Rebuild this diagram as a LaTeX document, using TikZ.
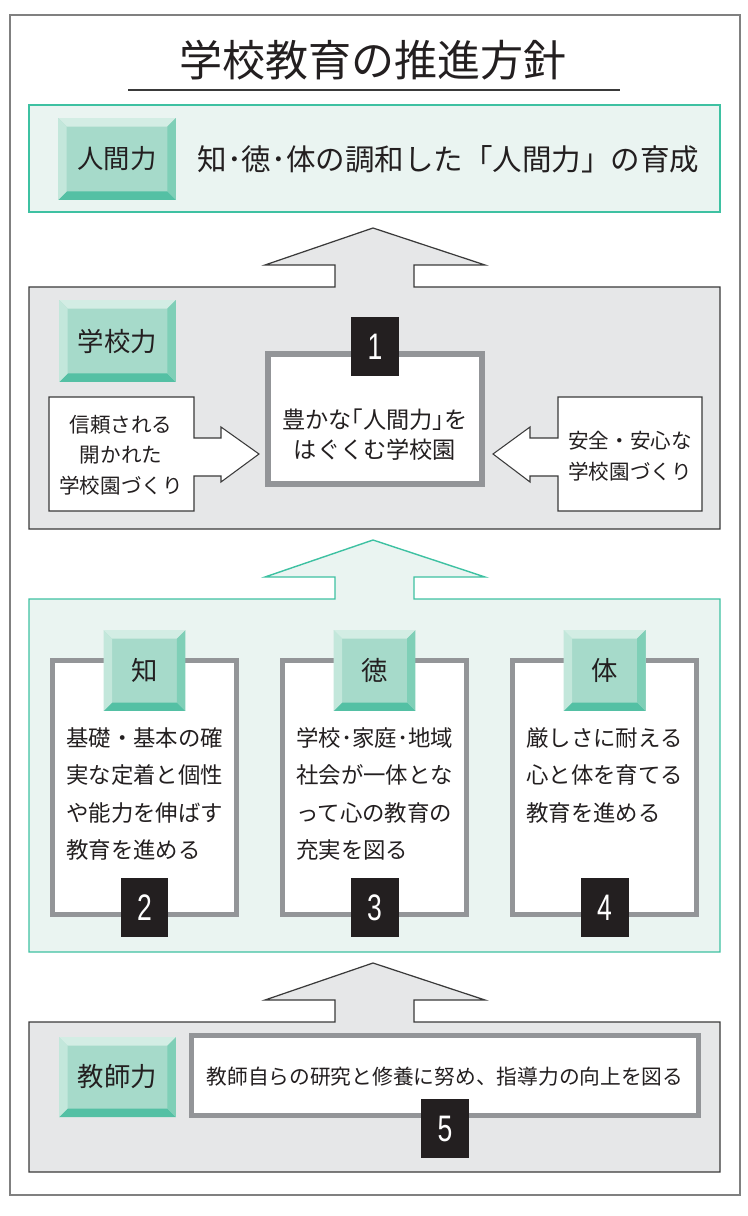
\documentclass[tikz,border=0pt]{standalone}
\usepackage{fontspec}
\setmainfont{Noto Sans CJK JP}
\newfontfamily\numfont[FakeStretch=0.72]{Liberation Sans}
\usetikzlibrary{positioning}

\definecolor{mintbg}{HTML}{EAF4F1}
\definecolor{mintline}{HTML}{3EC1A2}
\definecolor{graybg}{HTML}{E6E7E8}
\definecolor{grayline}{HTML}{939598}
\definecolor{darkline}{HTML}{3A3A3A}
\definecolor{ink}{HTML}{231F20}
\definecolor{bevface}{HTML}{A6DACA}
\definecolor{bevtop}{HTML}{D3EDE4}
\definecolor{bevleft}{HTML}{C3E7DB}
\definecolor{bevright}{HTML}{7FCFB7}
\definecolor{bevbot}{HTML}{54C0A4}

\newcommand{\bevw}{0.17cm}
% box with the broad up arrow on its top edge
\newcommand{\uparrowbox}[3]{%
  \draw[#1] (29,#2) -- (335,#2) -- (335,#2-22) -- (265,#2-22) -- (373,#2-59)
    -- (485,#2-22) -- (414,#2-22) -- (414,#2) -- (720,#2) -- (720,#3) -- (29,#3) -- cycle;}

\begin{document}
\begin{tikzpicture}[x=0.02cm, y=-0.02cm,
    every node/.append style={text=ink},
    bevel/.style={fill=bevface, minimum height=1.64cm, inner sep=0,
      font=\fontsize{15}{18}\selectfont,
      path picture={
        \path (path picture bounding box.north west) coordinate (bnw)
              (path picture bounding box.north east) coordinate (bne)
              (path picture bounding box.south west) coordinate (bsw)
              (path picture bounding box.south east) coordinate (bse);
        \fill[bevtop] (bnw) -- (bne) -- ([shift={(-\bevw,-\bevw)}]bne) -- ([shift={(\bevw,-\bevw)}]bnw) -- cycle;
        \fill[bevbot] (bsw) -- (bse) -- ([shift={(-\bevw,\bevw)}]bse) -- ([shift={(\bevw,\bevw)}]bsw) -- cycle;
        \fill[bevleft] (bnw) -- ([shift={(\bevw,-\bevw)}]bnw) -- ([shift={(\bevw,\bevw)}]bsw) -- (bsw) -- cycle;
        \fill[bevright] (bne) -- ([shift={(-\bevw,-\bevw)}]bne) -- ([shift={(-\bevw,\bevw)}]bse) -- (bse) -- cycle;
      }},
    numbox/.style={fill=ink, text=white, minimum width=0.96cm, minimum height=1.18cm,
      inner sep=0, font=\numfont\fontsize{21}{21}\selectfont},
    framebox/.style={draw=grayline, fill=white, inner sep=0},
    smalltext/.style={inner sep=0, align=center, font=\fontsize{11.7}{17.3}\selectfont},
    coltext/.style={anchor=north west, inner sep=0, align=left, font=\fontsize{12.75}{21.3}\selectfont}]
    \useasboundingbox (0,0) rectangle (747,1216);
    \draw[gray, line width=0.6pt] (10,15) rectangle (740,1195);

    \node[font=\fontsize{24.5}{28}\selectfont] (title) at (373,60) {学校教育の推進方針};
    \draw[darkline, line width=0.8pt] (128,90) -- (620,90);

    \draw[mintline, fill=mintbg, line width=0.8pt] (29,105) rectangle (720,212);
    \node[bevel, minimum width=2.36cm] (hbevel) at (117,159) {人間力};
    \node[right=0.42cm of hbevel, inner sep=0, font=\fontsize{16.8}{20}\selectfont] (hgoal) {知･徳･体の調和した「人間力」の育成};

    \uparrowbox{darkline, fill=graybg, line width=0.7pt}{287}{529}
    \node[bevel, minimum width=2.34cm] (sbevel) at (117.5,341) {学校力};
    \node[framebox, line width=3.4pt, minimum width=4.28cm, minimum height=2.6cm] (core) at (375,419) {};
    \node[inner sep=0, align=center, font=\fontsize{13.2}{17}\selectfont] (coretext) at (375,435) {豊かな｢人間力｣を\\はぐくむ学校園};
    \node[numbox] (n1) at (375,346.5) {1};
    \draw[darkline, fill=white, line width=0.6pt] (49,397) -- (194,397) -- (194,438) -- (221,438) -- (221,427)
      -- (259,454) -- (221,482) -- (221,476) -- (194,476) -- (194,511) -- (49,511) -- cycle;
    \draw[darkline, fill=white, line width=0.6pt] (702,397) -- (558,397) -- (558,438) -- (530,438) -- (530,427)
      -- (493,454) -- (530,482) -- (530,476) -- (558,476) -- (558,511) -- (702,511) -- cycle;
    \node[smalltext] (openschool) at (121,455) {信頼される\\開かれた\\学校園づくり};
    \node[smalltext] (safeschool) at (630,456) {安全・安心な\\学校園づくり};

    \uparrowbox{mintline, fill=mintbg, line width=0.8pt}{599}{952}
    \foreach \cx/\lab/\num/\txt [count=\i] in {
        144.5/知/2/{基礎・基本の確\\実な定着と個性\\や能力を伸ばす\\教育を進める},
        374.5/徳/3/{学校･家庭･地域\\社会が一体とな\\って心の教育の\\充実を図る},
        604.5/体/4/{厳しさに耐える\\心と体を育てる\\教育を進める}} {
      \node[framebox, line width=2.8pt, minimum width=3.68cm, minimum height=5.08cm] (col\i) at (\cx,787.5) {};
      \node[bevel, minimum width=1.64cm, minimum height=1.62cm] (colhead\i) at (\cx,670.5) {\lab};
      \node[coltext] (coltxt\i) at (\cx-78.5,727) {\txt};
      \node[numbox] (colnum\i) at (\cx,907.5) {\num};
    }

    \uparrowbox{darkline, fill=graybg, line width=0.7pt}{1022}{1172}
    \node[bevel, minimum width=2.34cm, minimum height=1.6cm] (tbevel) at (117.5,1077) {教師力};
    \node[framebox, line width=2.8pt, minimum width=10.14cm, minimum height=1.6cm] (teach) at (445,1075.5) {};
    \node[inner sep=0, font=\fontsize{11.8}{14}\selectfont] (teachtext) at (445,1077) {教師自らの研究と修養に努め、指導力の向上を図る};
    \node[numbox] (n5) at (445,1128.5) {5};
\end{tikzpicture}
\end{document}
